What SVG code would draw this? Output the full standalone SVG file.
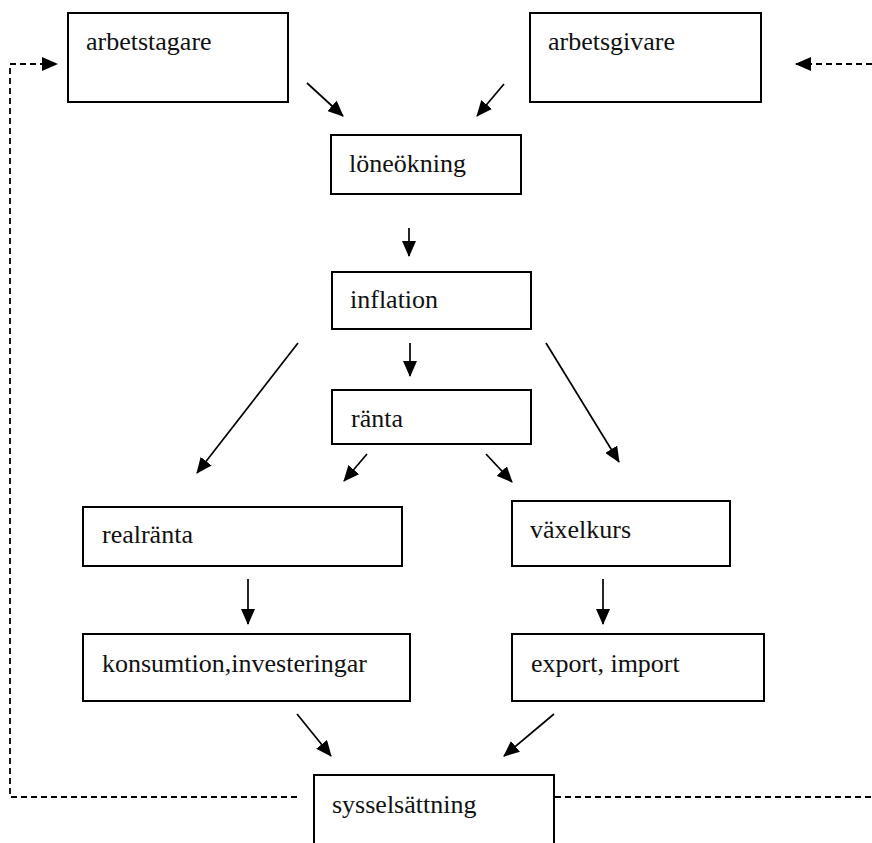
<svg xmlns="http://www.w3.org/2000/svg" width="872" height="843" viewBox="0 0 872 843">
<defs>
<marker id="ah" markerUnits="userSpaceOnUse" markerWidth="16" markerHeight="14" refX="15" refY="7" orient="auto">
<path d="M0,0 L16,7 L0,14 z" fill="#000"/>
</marker>
<style>
.box{fill:#fff;stroke:#000;stroke-width:2}
.lbl{font-size:26px;fill:#111}
.c{stroke:#000;stroke-width:1.7;fill:none}
.d{stroke:#000;stroke-width:1.8;fill:none;stroke-dasharray:6 4}
</style>
</defs>
<rect width="872" height="843" fill="#fff"/>
<g id="arbetstagare"><rect class="box" x="68" y="13" width="220" height="89"/><text class="lbl" font-family="Liberation Serif" x="86" y="50">arbetstagare</text></g>
<g id="arbetsgivare"><rect class="box" x="530" y="13" width="231" height="89"/><text class="lbl" font-family="Liberation Serif" x="548" y="50">arbetsgivare</text></g>
<g id="loneokning"><rect class="box" x="331" y="135" width="190" height="59"/><text class="lbl" font-family="Liberation Serif" x="349" y="172">löneökning</text></g>
<g id="inflation"><rect class="box" x="332" y="272" width="199" height="57"/><text class="lbl" font-family="Liberation Serif" x="350" y="308">inflation</text></g>
<g id="ranta"><rect class="box" x="332" y="390" width="199" height="54"/><text class="lbl" font-family="Liberation Serif" x="351" y="427">ränta</text></g>
<g id="realranta"><rect class="box" x="83" y="507" width="319" height="59"/><text class="lbl" font-family="Liberation Serif" x="102" y="543">realränta</text></g>
<g id="vaxelkurs"><rect class="box" x="512" y="501" width="218" height="65"/><text class="lbl" font-family="Liberation Serif" x="530" y="538">växelkurs</text></g>
<g id="konsumtion"><rect class="box" x="83" y="634" width="327" height="67"/><text class="lbl" font-family="Liberation Serif" x="102" y="672">konsumtion,investeringar</text></g>
<g id="export"><rect class="box" x="512" y="634" width="252" height="67"/><text class="lbl" font-family="Liberation Serif" x="531" y="672">export, import</text></g>
<g id="sysselsattning"><rect class="box" x="314" y="775" width="240" height="80"/><text class="lbl" font-family="Liberation Serif" x="332" y="813">sysselsättning</text></g>
<g id="connectors">
<line class="c" x1="307" y1="83" x2="343" y2="116" marker-end="url(#ah)"/>
<line class="c" x1="504" y1="84" x2="477" y2="116" marker-end="url(#ah)"/>
<line class="c" x1="409" y1="228" x2="409" y2="256" marker-end="url(#ah)"/>
<line class="c" x1="410" y1="343" x2="410" y2="376" marker-end="url(#ah)"/>
<line class="c" x1="298" y1="343" x2="197" y2="473" marker-end="url(#ah)"/>
<line class="c" x1="546" y1="343" x2="619" y2="462" marker-end="url(#ah)"/>
<line class="c" x1="367" y1="454" x2="344" y2="481" marker-end="url(#ah)"/>
<line class="c" x1="486" y1="454" x2="512" y2="482" marker-end="url(#ah)"/>
<line class="c" x1="248" y1="579" x2="248" y2="624" marker-end="url(#ah)"/>
<line class="c" x1="603" y1="579" x2="603" y2="624" marker-end="url(#ah)"/>
<line class="c" x1="297" y1="714" x2="331" y2="756" marker-end="url(#ah)"/>
<line class="c" x1="554" y1="714" x2="504" y2="756" marker-end="url(#ah)"/>
<path class="d" d="M297,797 H10 V64 H57" marker-end="url(#ah)"/>
<path class="d" d="M555,797 H872"/>
<path class="d" d="M872,64 H796" marker-end="url(#ah)"/>
</g>
</svg>
